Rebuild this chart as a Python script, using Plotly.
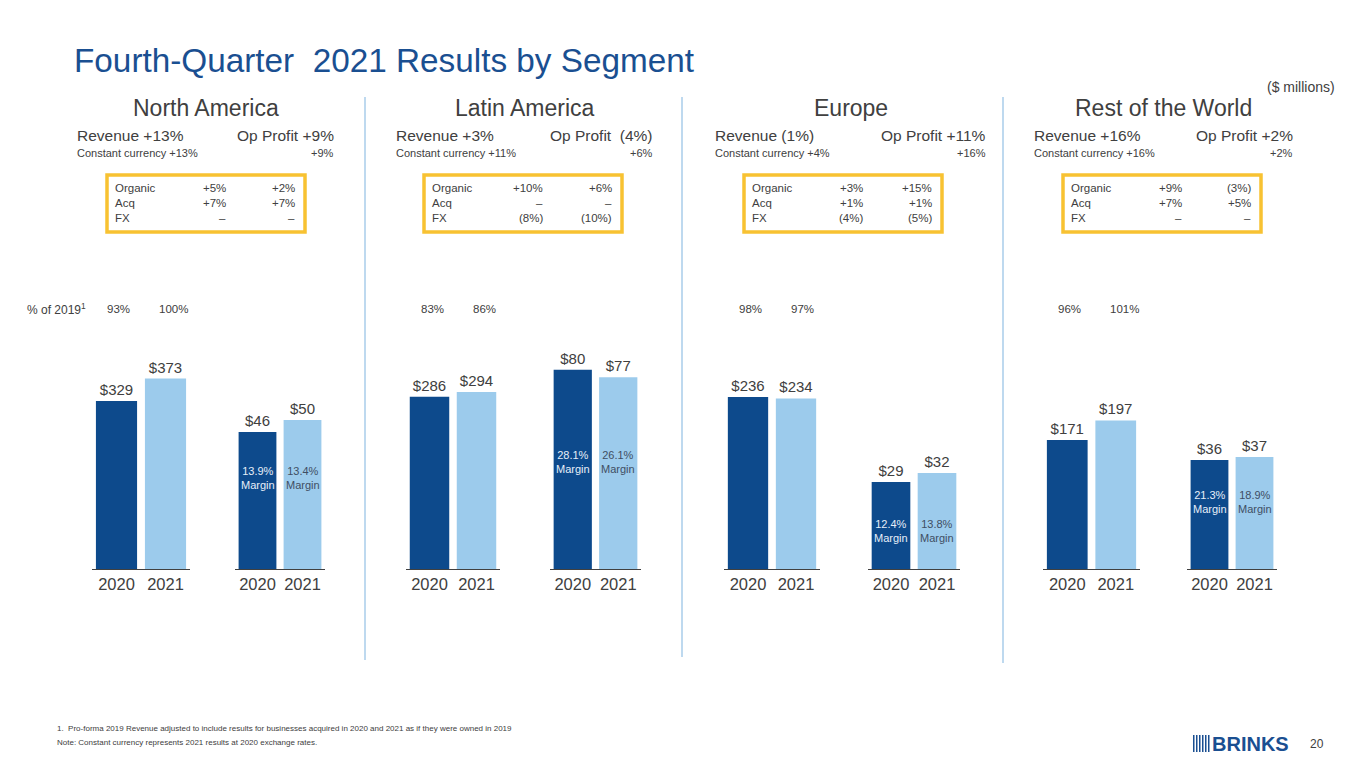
import plotly.graph_objects as go

# page offset of the browser body (default 8px margin)
OFF = 8
W, H = 1365 - 2 * OFF, 768 - 2 * OFF

# ---- data ----
segments = ["North America", "Latin America", "Europe", "Rest of the World"]
years = ["2020", "2021"]
revenue_2020 = [329, 286, 236, 171]
revenue_2021 = [373, 294, 234, 197]
op_profit_2020 = [46, 80, 29, 36]
op_profit_2021 = [50, 77, 32, 37]
margin_2020 = ["13.9%", "28.1%", "12.4%", "21.3%"]
margin_2021 = ["13.4%", "26.1%", "13.8%", "18.9%"]
pct_of_2019_2020 = ["93%", "83%", "98%", "96%"]
pct_of_2019_2021 = ["100%", "86%", "97%", "101%"]
revenue_change = ["+13%", "+3%", "(1%)", "+16%"]
op_profit_change = ["+9%", "\u00a0(4%)", "+11%", "+2%"]
cc_revenue = ["+13%", "+11%", "+4%", "+16%"]
cc_op_profit = ["+9%", "+6%", "+16%", "+2%"]
bridge_rows = ["Organic", "Acq", "FX"]
bridge_revenue = [["+5%", "+7%", "–"], ["+10%", "–", "(8%)"],
                  ["+3%", "+1%", "(4%)"], ["+9%", "+7%", "–"]]
bridge_op_profit = [["+2%", "+7%", "–"], ["+6%", "–", "(10%)"],
                    ["+15%", "+1%", "(5%)"], ["(3%)", "+5%", "–"]]

# ---- layout constants (pixels on the slide) ----
DARK = "#0D4A8C"
LIGHT = "#9CCBEC"
GREY = "#404040"
TITLE_BLUE = "#1A4F91"
GOLD = "#F8C232"
DIVIDER = "#A9CCEA"
FONT = "Liberation Sans, Arial, sans-serif"

BASE, TOP = 569, 330
rev_left = [92, 406, 724, 1043]
rev_right = [190, 500, 820, 1140]
op_left = [235, 550, 868, 1187]
op_right = [325, 641, 960, 1277]
rev_axis_max = [468, 397, 328, 317]
op_axis_max = [80.2, 96, 79.7, 78.9]
seg_left = [75, 394, 713, 1032]
seg_right = [336, 655, 988, 1295]
box_left = [107, 424, 744, 1063]
margin_label_y = [478, 462, 531, 502]


def px(x):
    return (x - OFF) / W


def py(y):
    return 1 - (y - OFF) / H


fig = go.Figure()
annotations = []
shapes = []


def text(x, y, s, size, color=GREY, xanchor="left", family=FONT):
    annotations.append(dict(x=px(x), y=py(y), xref="paper", yref="paper", text=s,
                            showarrow=False, xanchor=xanchor, yanchor="middle",
                            font=dict(family=family, size=size, color=color)))


axis_n = 0
for i, seg in enumerate(segments):
    groups = [
        (revenue_2020[i], revenue_2021[i], rev_left[i], rev_right[i], rev_axis_max[i], False),
        (op_profit_2020[i], op_profit_2021[i], op_left[i], op_right[i], op_axis_max[i], True),
    ]
    for v0, v1, l, r, ymax, is_op in groups:
        axis_n += 1
        sx = "" if axis_n == 1 else str(axis_n)
        fig.add_trace(go.Bar(
            x=years, y=[v0, v1], xaxis="x" + sx, yaxis="y" + sx,
            marker=dict(color=[DARK, LIGHT], line=dict(width=0)),
            width=0.84,
            text=["$%d" % v0, "$%d" % v1], textposition="outside",
            constraintext="none", cliponaxis=False,
            textfont=dict(family=FONT, size=15, color=GREY),
            hoverinfo="skip", showlegend=False,
        ))
        fig.update_layout(**{
            "xaxis" + sx: dict(domain=[px(l), px(r)], anchor="y" + sx, type="category",
                               range=[-0.5, 1.5],
                               showline=True, linecolor=GREY, linewidth=1,
                               showgrid=False, zeroline=False, ticks="",
                               tickfont=dict(family=FONT, size=16.5, color=GREY),
                               fixedrange=True),
            "yaxis" + sx: dict(domain=[py(BASE), py(TOP)], anchor="x" + sx,
                               range=[0, ymax], visible=False, fixedrange=True),
        })
        if is_op:
            for k, (m, col) in enumerate([(margin_2020[i], "#E6EEF8"), (margin_2021[i], "#3F4E63")]):
                cx = l + (r - l) * (k + 0.5) / 2
                text(cx, margin_label_y[i], m + "<br>Margin", 11, color=col, xanchor="center")

    # headers
    text((seg_left[i] + seg_right[i]) / 2, 108, seg, 23, xanchor="center")
    text(seg_left[i], 135, "Revenue " + revenue_change[i], 15.5)
    text(seg_right[i], 135, "Op Profit " + op_profit_change[i], 15.5, xanchor="right")
    text(seg_left[i], 153, "Constant currency " + cc_revenue[i], 11)
    text(seg_right[i], 153, cc_op_profit[i], 11, xanchor="right")

    # bridge box
    bl = box_left[i]
    shapes.append(dict(type="rect", xref="paper", yref="paper",
                       x0=px(bl), x1=px(bl + 198), y0=py(232), y1=py(175),
                       line=dict(color=GOLD, width=3.5)))
    for k, row in enumerate(bridge_rows):
        yy = 188 + 15 * k
        text(bl + 6, yy, row, 11.5)
        text(bl + 121, yy, bridge_revenue[i][k], 11.5, xanchor="right")
        text(bl + 190, yy, bridge_op_profit[i][k], 11.5, xanchor="right")

    # % of 2019
    text(rev_left[i] + 13, 309, pct_of_2019_2020[i], 11.5)
    text(rev_left[i] + 65, 309, pct_of_2019_2021[i], 11.5)

text(25, 309, "% of 2019<sup>1</sup>", 12)

# dividers
for x, y1 in [(365, 660), (682, 657), (1003, 663)]:
    shapes.append(dict(type="line", xref="paper", yref="paper", x0=px(x), x1=px(x),
                       y0=py(97), y1=py(y1), line=dict(color=DIVIDER, width=1.5)))

# title and notes
text(72, 60, "Fourth-Quarter\u00a0 2021 Results by Segment", 33.3, color=TITLE_BLUE)
text(1337, 87, "($ millions)", 14, xanchor="right")
text(55, 728, "1.  Pro-forma 2019 Revenue adjusted to include results for businesses acquired "
     "in 2020 and 2021 as if they were owned in 2019", 8)
text(55, 742, "Note: Constant currency represents 2021 results at 2020 exchange rates.", 8)
text(1317, 744, "20", 12, xanchor="center")

# logo
for k in range(6):
    x = 1193 + k * 3
    shapes.append(dict(type="rect", xref="paper", yref="paper", x0=px(x), x1=px(x + 1.5),
                       y0=py(752), y1=py(735), line=dict(width=0), fillcolor=TITLE_BLUE))
text(1210, 744, "<b>BRINKS</b>", 20, color=TITLE_BLUE)

fig.update_layout(
    width=W, height=H, margin=dict(l=0, r=0, t=0, b=0, autoexpand=False),
    paper_bgcolor="white", plot_bgcolor="white",
    annotations=annotations, shapes=shapes,
    font=dict(family=FONT, color=GREY),
)

fig.write_html("out.html")
